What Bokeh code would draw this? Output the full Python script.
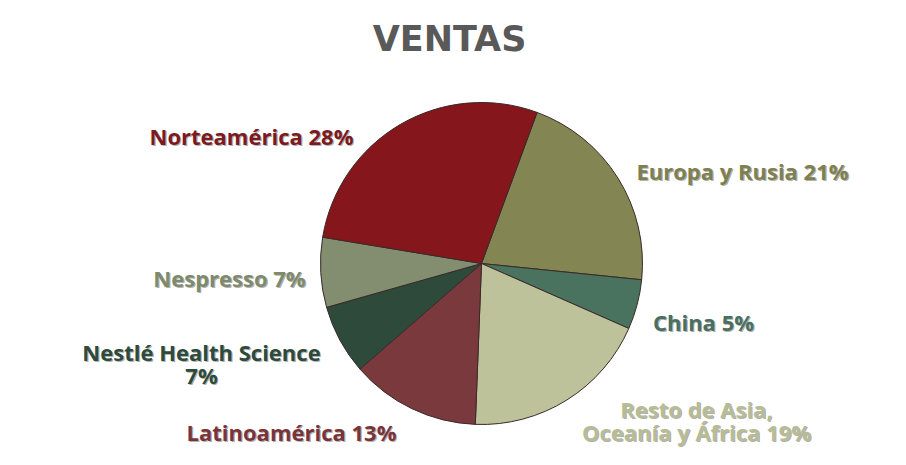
from bokeh.plotting import figure
from bokeh.models import Range1d, ColumnDataSource
from bokeh.embed import file_html
from bokeh.resources import INLINE
from bokeh.core.properties import value
import math

# ---- data ----
title_text = "VENTAS"
categories = ["Europa y Rusia", "China", "Resto de Asia,\nOceanía y África",
              "Latinoamérica", "Nestlé Health Science\n", "Nespresso", "Norteamérica"]
shares = [21, 5, 19, 13, 7, 7, 28]
slice_colors = ["#838552", "#49735F", "#BEC29B", "#7A393C", "#2E4A3B", "#828E6F", "#85161C"]
label_colors = ["#7E804F", "#4A6F5E", "#B8BC94", "#7A3439", "#2E4A3B", "#7E8A6B", "#7C1A20"]

# ---- layout (screen pixel coordinates) ----
W, H = 890, 449
CX, CY, R = 481, 263, 161
START_CLOCK_DEG = 20.2          # first slice starts 20.2deg clockwise from 12 o'clock
label_anchor_x = [742, 703, 696, 291, 201, 229, 251]
label_baseline_y = [170, 321, 408, 431, 351, 277, 135]
LINE_GAP = 23

def sy(y):
    return H - y

p = figure(width=W, height=H, output_backend="svg", toolbar_location=None,
           x_range=Range1d(0, W), y_range=Range1d(0, H), min_border=0)
p.axis.visible = False
p.grid.visible = False
p.outline_line_color = None
p.background_fill_color = "white"
p.border_fill_color = "white"

total = float(sum(shares))
starts, ends = [], []
cum = START_CLOCK_DEG
for s in shares:
    a0 = cum
    a1 = cum + s / total * 360.0
    starts.append(math.radians(90 - a0))
    ends.append(math.radians(90 - a1))
    cum = a1

src = ColumnDataSource(dict(start=starts, end=ends, color=slice_colors))
p.wedge(x=CX, y=sy(CY), radius=R, start_angle="start", end_angle="end",
        direction="clock", fill_color="color", line_color="#3a2a2a",
        line_width=1, source=src)

# labels
lx, ly, lt, lc = [], [], [], []
for i, (cat, sh) in enumerate(zip(categories, shares)):
    full = f"{cat} {sh}%" if not cat.endswith("\n") else f"{cat}{sh}%"
    lines = full.split("\n")
    for j, line in enumerate(lines):
        lx.append(label_anchor_x[i])
        ly.append(sy(label_baseline_y[i] + j * LINE_GAP))
        lt.append(line)
        lc.append(label_colors[i])

FONT = "Open Sans"
FSIZE = "22px"
shadow_src = ColumnDataSource(dict(x=[v + 1.2 for v in lx], y=[v - 1.2 for v in ly], t=lt))
p.text(x="x", y="y", text="t", source=shadow_src, text_color="#333333", text_alpha=0.4,
       text_font=value(FONT), text_font_style="bold", text_font_size=FSIZE,
       text_align="center", text_baseline="alphabetic")
lab_src = ColumnDataSource(dict(x=lx, y=ly, t=lt, c=lc))
p.text(x="x", y="y", text="t", source=lab_src, text_color="c",
       text_font=value(FONT), text_font_style="bold", text_font_size=FSIZE,
       text_align="center", text_baseline="alphabetic")

# title
p.text(x=[449], y=[sy(38)], text=[title_text], text_color="#595959",
       text_font=value("DejaVu Sans"), text_font_style="bold", text_font_size="35px",
       text_align="center", text_baseline="alphabetic")

open("out.html", "w").write(file_html(p, INLINE))
